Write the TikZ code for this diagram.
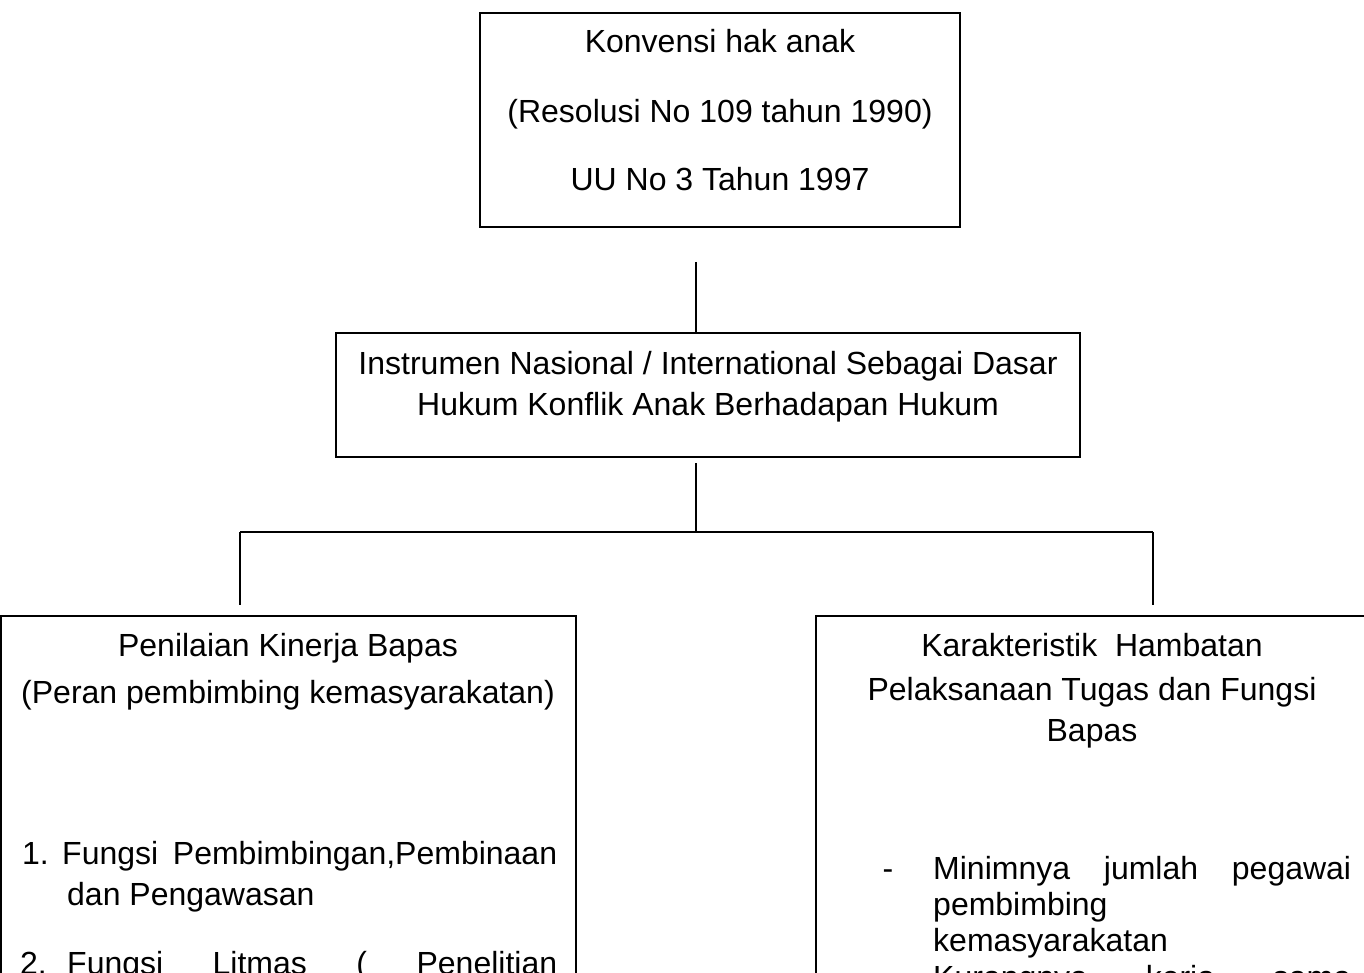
\documentclass[tikz,border=0pt]{standalone}
\usepackage{fontspec}
\setmainfont{Liberation Sans}
\tikzset{
  box/.style={draw, line width=1.4pt, inner sep=0pt, rectangle},
  txt/.style={inner sep=0pt, font=\fontsize{32}{38}\selectfont, anchor=base},
  txtw/.style={inner sep=0pt, font=\fontsize{32}{38}\selectfont, anchor=base west},
  conn/.style={line width=1.4pt}
}
\begin{document}
\begin{tikzpicture}[x=1pt,y=-1pt]
\useasboundingbox (0,0) rectangle (1364,973);
\clip (0,0) rectangle (1364,973);
% boxes
\node[box, minimum width=480pt, minimum height=214pt] (top) at (720,120) {};
\node[box, minimum width=744pt, minimum height=124pt] (mid) at (708,395) {};
\node[box, minimum width=575pt, minimum height=484pt] (left) at (288.5,858) {};
\node[box, minimum width=552pt, minimum height=484pt] (right) at (1092,858) {};
% top texts
\node[txt] (t1) at (720,53) {Konvensi hak anak};
\node[txt] (t2) at (720,123) {(Resolusi No 109 tahun 1990)};
\node[txt] (t3) at (720,191) {UU No 3 Tahun 1997};
% middle texts
\node[txt] (m1) at (708,374) {Instrumen Nasional / International Sebagai Dasar};
\node[txt] (m2) at (708,415) {Hukum Konflik Anak Berhadapan Hukum};
% left texts
\node[txt] (l1) at (288,656) {Penilaian Kinerja Bapas};
\node[txt] (l2) at (288,703) {(Peran pembimbing kemasyarakatan)};
\node[txtw] (l3n) at (22,864) {1.};
\node[txtw] (l3) at (62,864) {\hbox to 495pt{Fungsi\hfill Pembimbingan,Pembinaan}};
\node[txtw] (l4) at (67,905) {dan Pengawasan};
\node[txtw] (l5n) at (20,974) {2.};
\node[txtw] (l5) at (67,974) {\hbox to 490pt{Fungsi\hfill Litmas\hfill (\hfill Penelitian}};
% right texts
\node[txt] (r1) at (1092,656) {Karakteristik\ \ Hambatan};
\node[txt] (r2) at (1092,700) {Pelaksanaan Tugas dan Fungsi};
\node[txt] (r3) at (1092,741) {Bapas};
\node[txt] (r4n) at (888,879) {-};
\node[txtw] (r4) at (933,879) {\hbox to 418pt{Minimnya\hfill jumlah\hfill pegawai}};
\node[txtw] (r5) at (933,915) {pembimbing};
\node[txtw] (r6) at (933,951) {kemasyarakatan};
\node[txtw] (r7) at (933,988) {\hbox to 418pt{Kurangnya\hfill kerja\hfill sama}};
% connectors
\coordinate (a1) at (696,262);
\draw[conn] (a1) -- (a1 |- mid.north);
\coordinate (b1) at (696,463);
\coordinate (b2) at (696,532);
\draw[conn] (b1) -- (b2);
\coordinate (hl) at (240,532);
\coordinate (hr) at (1153,532);
\draw[conn] (hl) -- (hr);
\coordinate (dl) at (240,605);
\coordinate (dr) at (1153,605);
\draw[conn] (hl) -- (dl);
\draw[conn] (hr) -- (dr);
\end{tikzpicture}
\end{document}
